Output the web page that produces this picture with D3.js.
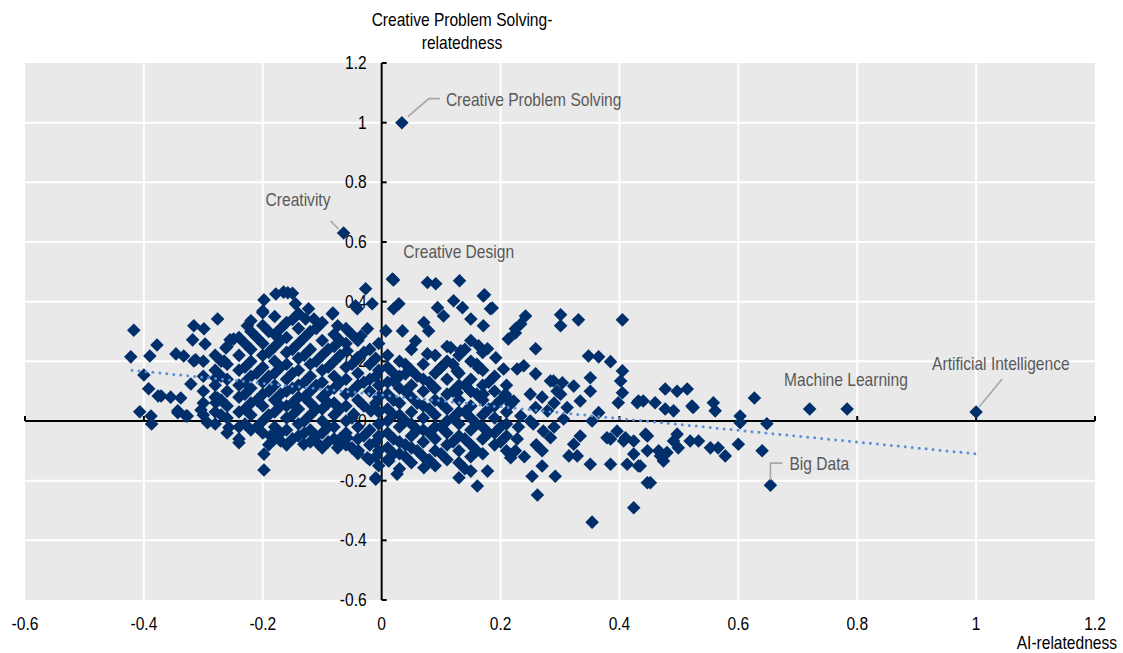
<!DOCTYPE html>
<html><head><meta charset="utf-8">
<script src="https://cdn.jsdelivr.net/npm/d3@7"></script>
<style>html,body{margin:0;padding:0;background:#fff;}svg{display:block;}</style>
</head><body>
<svg id="chart" width="1123" height="653"></svg>
<script>
// ---------- DATA ----------
const xTicks = [-0.6,-0.4,-0.2,0,0.2,0.4,0.6,0.8,1,1.2];
const xTickLabels = ["-0.6","-0.4","-0.2","0","0.2","0.4","0.6","0.8","1","1.2"];
const yTicks = [-0.6,-0.4,-0.2,0,0.2,0.4,0.6,0.8,1,1.2];
const yTickLabels = ["-0.6","-0.4","-0.2","0","0.2","0.4","0.6","0.8","1","1.2"];
const xTitle = "AI-relatedness";
const yTitleLines = ["Creative Problem Solving-","relatedness"];

// labelled skills [AI-relatedness, CPS-relatedness]
const labelledNames = ["Creative Problem Solving","Creativity","Creative Design","Machine Learning","Artificial Intelligence","Big Data"];
const labelledX = [0.034,-0.064,0.018,0.783,1.0,0.654];
const labelledY = [1.0,0.63,0.476,0.04,0.03,-0.215];

// trend line end points
const trendX = [-0.42, 1.0];
const trendY = [0.17, -0.11];

// other skills [AI-relatedness, CPS-relatedness]
const skillsLeft = [
[-0.417,0.304],[-0.422,0.215],[-0.39,0.218],[-0.378,0.255],[-0.40,0.154],[-0.392,0.108],[-0.407,0.031],[-0.388,0.017],[-0.387,-0.01],[-0.376,0.084],
[-0.346,0.225],[-0.333,0.218],[-0.316,0.319],[-0.299,0.309],[-0.318,0.272],[-0.297,0.258],[-0.276,0.342],[-0.313,0.205],[-0.255,0.272],[-0.262,0.245],
[-0.226,0.319],[-0.22,0.336],[-0.198,0.406],[-0.20,0.369],[-0.178,0.426],[-0.158,0.43],[-0.165,0.432],[-0.15,0.428],
[-0.371,0.084],[-0.355,0.08],[-0.338,0.077],[-0.343,0.034],[-0.329,0.017],[-0.304,0.037],[-0.293,-0.006],[-0.321,0.124],[-0.279,0.144],[-0.279,0.061],
[-0.257,-0.022],[-0.24,-0.073],[-0.198,-0.111],[-0.198,-0.164],[-0.187,-0.05],
[-0.145,0.393],[-0.123,0.376],[-0.128,0.342],[-0.106,0.319],[-0.082,0.362],[-0.074,0.319],[-0.027,0.443],[-0.041,0.376],[-0.016,0.393],[-0.024,0.309],
[-0.035,0.285],[-0.058,0.235],[-0.041,0.212],[0.007,0.302],
[-0.047,0.023],[-0.018,0.034],[-0.058,-0.056],[-0.039,-0.1],[-0.024,-0.123],[-0.01,-0.19],[-0.074,-0.09],[-0.106,-0.078],[-0.131,-0.078],[-0.17,-0.067],[0.012,-0.134],
[-0.316,0.201],[-0.343,0.028],[-0.327,0.017],[-0.265,0.201],[-0.249,0.275],[-0.2,0.363],[-0.114,0.342],[-0.083,0.359],[-0.044,0.386],[-0.276,0.077],[-0.01,-0.195]
];
const skillsCoreLeft = [
[-0.30,0.20],[-0.30,0.15],[-0.30,0.10],[-0.30,0.06],[-0.30,0.02],
[-0.28,0.22],[-0.28,0.17],[-0.28,0.12],[-0.28,0.08],[-0.28,0.03],[-0.28,-0.01],
[-0.26,0.25],[-0.26,0.19],[-0.26,0.14],[-0.26,0.10],[-0.26,0.05],[-0.26,0.01],[-0.26,-0.04],
[-0.24,0.28],[-0.24,0.22],[-0.24,0.17],[-0.24,0.12],[-0.24,0.08],[-0.24,0.03],[-0.24,-0.02],[-0.24,-0.06],
[-0.22,0.30],[-0.22,0.24],[-0.22,0.20],[-0.22,0.15],[-0.22,0.11],[-0.22,0.06],[-0.22,0.02],[-0.22,-0.03],
[-0.20,0.32],[-0.20,0.26],[-0.20,0.22],[-0.20,0.18],[-0.20,0.13],[-0.20,0.09],[-0.20,0.05],[-0.20,0.00],[-0.20,-0.04],
[-0.18,0.35],[-0.18,0.29],[-0.18,0.25],[-0.18,0.20],[-0.18,0.16],[-0.18,0.12],[-0.18,0.07],[-0.18,0.03],[-0.18,-0.02],[-0.18,-0.06],
[-0.16,0.33],[-0.16,0.28],[-0.16,0.23],[-0.16,0.19],[-0.16,0.14],[-0.16,0.10],[-0.16,0.05],[-0.16,0.01],[-0.16,-0.03],[-0.16,-0.08],
[-0.14,0.36],[-0.14,0.31],[-0.14,0.26],[-0.14,0.21],[-0.14,0.17],[-0.14,0.12],[-0.14,0.08],[-0.14,0.04],[-0.14,-0.01],[-0.14,-0.05],
[-0.12,0.30],[-0.12,0.24],[-0.12,0.19],[-0.12,0.15],[-0.12,0.10],[-0.12,0.06],[-0.12,0.02],[-0.12,-0.03],[-0.12,-0.07],
[-0.10,0.33],[-0.10,0.27],[-0.10,0.22],[-0.10,0.17],[-0.10,0.13],[-0.10,0.08],[-0.10,0.04],[-0.10,0.00],[-0.10,-0.04],[-0.10,-0.09],
[-0.08,0.29],[-0.08,0.25],[-0.08,0.20],[-0.08,0.15],[-0.08,0.11],[-0.08,0.06],[-0.08,0.02],[-0.08,-0.02],[-0.08,-0.06],
[-0.06,0.31],[-0.06,0.26],[-0.06,0.18],[-0.06,0.14],[-0.06,0.09],[-0.06,0.05],[-0.06,0.00],[-0.06,-0.04],[-0.06,-0.08],
[-0.04,0.27],[-0.04,0.21],[-0.04,0.16],[-0.04,0.12],[-0.04,0.07],[-0.04,-0.02],[-0.04,-0.06],[-0.04,-0.11],
[-0.02,0.24],[-0.02,0.19],[-0.02,0.14],[-0.02,0.10],[-0.02,-0.03],[-0.02,-0.08],[-0.02,-0.13],
[-0.005,0.26],[-0.005,0.17],[-0.005,0.12],[-0.005,0.08],[-0.005,0.03],[-0.005,-0.01],[-0.005,-0.05],[-0.005,-0.10],[-0.005,-0.15]
];
const skillsCoreLeftB = [
[-0.27,0.20],[-0.27,0.15],[-0.27,0.07],[-0.27,0.02],
[-0.23,0.26],[-0.23,0.18],[-0.23,0.13],[-0.23,0.09],[-0.23,0.04],[-0.23,-0.01],
[-0.21,0.28],[-0.21,0.16],[-0.21,0.07],[-0.21,-0.02],
[-0.19,0.30],[-0.19,0.23],[-0.19,0.15],[-0.19,0.10],[-0.19,0.02],[-0.19,-0.08],
[-0.17,0.31],[-0.17,0.27],[-0.17,0.18],[-0.17,0.09],[-0.17,0.05],[-0.17,-0.04],
[-0.15,0.34],[-0.15,0.24],[-0.15,0.16],[-0.15,0.11],[-0.15,0.06],[-0.15,0.02],[-0.15,-0.06],
[-0.13,0.28],[-0.13,0.22],[-0.13,0.13],[-0.13,0.08],[-0.13,0.00],[-0.13,-0.04],
[-0.11,0.31],[-0.11,0.20],[-0.11,0.12],[-0.11,0.04],[-0.11,-0.05],
[-0.09,0.24],[-0.09,0.18],[-0.09,0.10],[-0.09,0.06],[-0.09,-0.02],[-0.09,-0.07],
[-0.07,0.27],[-0.07,0.22],[-0.07,0.13],[-0.07,0.04],[-0.07,-0.06],
[-0.05,0.29],[-0.05,0.19],[-0.05,0.10],[-0.05,0.01],[-0.05,-0.09],
[-0.03,0.23],[-0.03,0.13],[-0.03,0.05],[-0.03,-0.05],
[-0.01,0.21],[-0.01,0.15],[-0.01,0.06],[-0.01,-0.07],[-0.01,-0.12]
];
const skillsCoreMid = [
[0.01,0.22],[0.01,0.18],[0.01,0.13],[0.01,0.09],[0.01,0.04],[0.01,0.00],[0.01,-0.04],[0.01,-0.09],[0.01,-0.13],
[0.03,0.20],[0.03,0.15],[0.03,0.11],[0.03,0.06],[0.03,0.02],[0.03,-0.02],[0.03,-0.07],[0.03,-0.11],[0.03,-0.16],
[0.05,0.24],[0.05,0.17],[0.05,0.12],[0.05,0.08],[0.05,0.03],[0.05,-0.01],[0.05,-0.05],[0.05,-0.09],[0.05,-0.14],
[0.07,0.19],[0.07,0.14],[0.07,0.10],[0.07,0.05],[0.07,0.01],[0.07,-0.03],[0.07,-0.07],[0.07,-0.12],
[0.09,0.22],[0.09,0.16],[0.09,0.11],[0.09,0.07],[0.09,0.02],[0.09,-0.02],[0.09,-0.06],[0.09,-0.10],[0.09,-0.15],
[0.11,0.25],[0.11,0.20],[0.11,0.14],[0.11,0.09],[0.11,0.04],[0.11,0.00],[0.11,-0.04],[0.11,-0.08],[0.11,-0.13],
[0.13,0.22],[0.13,0.16],[0.13,0.12],[0.13,0.07],[0.13,0.03],[0.13,-0.01],[0.13,-0.05],[0.13,-0.10],[0.13,-0.14],[0.13,-0.19],
[0.15,0.27],[0.15,0.20],[0.15,0.14],[0.15,0.10],[0.15,0.05],[0.15,0.01],[0.15,-0.03],[0.15,-0.08],[0.15,-0.12],
[0.17,0.23],[0.17,0.17],[0.17,0.12],[0.17,0.07],[0.17,0.02],[0.17,-0.02],[0.17,-0.06],[0.17,-0.11],
[0.19,0.15],[0.19,0.10],[0.19,0.05],[0.19,0.01],[0.19,-0.04],[0.19,-0.08],
[0.21,0.12],[0.21,0.08],[0.21,0.03],[0.21,-0.01],[0.21,-0.05],[0.21,-0.10]
];
const skillsCoreMidB = [
[0.02,0.16],[0.02,0.07],[0.02,0.02],[0.02,-0.06],[0.02,-0.11],
[0.04,0.19],[0.04,0.10],[0.04,0.00],[0.04,-0.08],[0.04,-0.12],
[0.06,0.15],[0.06,0.06],[0.06,-0.03],[0.06,-0.10],
[0.08,0.13],[0.08,0.04],[0.08,-0.04],[0.08,-0.13],
[0.10,0.18],[0.10,0.06],[0.10,-0.02],[0.10,-0.11],
[0.12,0.19],[0.12,0.10],[0.12,0.01],[0.12,-0.07],
[0.14,0.24],[0.14,0.12],[0.14,0.03],[0.14,-0.06],[0.14,-0.16],
[0.16,0.19],[0.16,0.09],[0.16,-0.01],[0.16,-0.10],
[0.18,0.13],[0.18,0.04],[0.18,-0.04],
[0.20,0.07],[0.20,-0.02],[0.20,-0.07]
];
const skillsMidUpper = [
[0.02,0.473],[0.077,0.464],[0.091,0.46],[0.131,0.47],[0.171,0.419],[0.183,0.376],[0.029,0.393],[0.02,0.376],[0.094,0.38],[0.104,0.352],
[0.121,0.403],[0.136,0.38],[0.15,0.342],[0.171,0.319],[0.035,0.302],[0.071,0.33],[0.079,0.302],[0.057,0.268],[0.077,0.225],[0.116,0.246],
[0.133,0.235],[0.163,0.252],[0.178,0.242],[0.192,0.212],[0.213,0.275],[0.225,0.309],[0.205,0.174],[0.228,0.174],[0.099,0.178],[0.127,0.168],
[0.163,0.178],[0.087,0.112],[0.04,0.158],[0.02,0.134],[0.208,0.09],[0.217,0.057],[0.15,0.1],[0.171,0.09],[0.127,0.095],
[0.161,-0.218],[0.178,-0.168],[0.15,-0.168],[0.026,-0.178],[0.071,-0.157],[0.217,-0.123],[0.173,0.423],[0.186,0.379]
];
const skillsRight = [
[0.242,0.352],[0.234,0.325],[0.225,0.295],[0.301,0.356],[0.301,0.319],[0.331,0.339],[0.405,0.339],[0.259,0.242],[0.348,0.218],[0.365,0.215],
[0.385,0.199],[0.405,0.168],[0.402,0.134],[0.405,0.095],[0.398,0.061],[0.432,0.067],[0.239,0.185],[0.259,0.158],[0.289,0.134],[0.304,0.128],
[0.323,0.117],[0.351,0.145],[0.351,0.1],[0.301,0.09],[0.334,0.067],[0.312,0.045],[0.365,0.028],[0.354,0.0],[0.222,0.067],[0.234,0.017],
[0.259,0.045],[0.279,0.034],[0.306,0.007],[0.255,-0.01],[0.272,-0.034],[0.284,-0.056],[0.334,-0.05],[0.323,-0.078],[0.315,-0.117],[0.329,-0.117],
[0.351,-0.145],[0.385,-0.145],[0.379,-0.056],[0.396,-0.034],[0.41,-0.056],[0.413,-0.145],[0.432,-0.151],[0.444,-0.044],[0.424,-0.111],[0.447,-0.207],
[0.424,-0.291],[0.354,-0.339],[0.262,-0.248],[0.253,-0.185],[0.27,-0.151],[0.292,-0.185],[0.225,-0.1],[0.228,-0.06],
[0.284,0.134],[0.295,0.1],[0.385,-0.06],[0.407,-0.067],[0.424,-0.067],[0.466,-0.1],[0.474,-0.134],
[0.23,-0.02],[0.25,0.0],[0.26,-0.08],[0.24,-0.12],[0.27,-0.1],[0.29,-0.02],[0.29,0.06],[0.27,0.08],[0.25,0.09],
[0.477,0.107],[0.497,0.1],[0.514,0.107],[0.44,0.067],[0.46,0.061],[0.477,0.04],[0.491,0.034],[0.524,0.045],[0.558,0.061],[0.561,0.034],
[0.603,0.017],[0.603,-0.006],[0.627,0.077],[0.648,-0.009],[0.447,-0.05],[0.447,-0.1],[0.469,-0.117],[0.48,-0.106],[0.497,-0.044],[0.491,-0.067],
[0.499,-0.09],[0.519,-0.067],[0.533,-0.067],[0.553,-0.09],[0.566,-0.09],[0.578,-0.117],[0.6,-0.078],[0.64,-0.1],[0.452,-0.207],[0.435,-0.151],
[0.43,0.061],[0.522,0.05],[0.72,0.04]
];

// ---------- LAYOUT / STYLE ----------
const FONT = "'Liberation Sans', Arial, sans-serif";
const FS = 17.5, SX = 0.89;
const svg = d3.select("#chart");
const x = d3.scaleLinear().domain([-0.6,1.2]).range([25,1095]);
const y = d3.scaleLinear().domain([-0.6,1.2]).range([600,63]);

function txt(px, py, str, anchor, color){
  svg.append("g").attr("transform",`translate(${px},${py}) scale(${SX},1)`)
    .append("text").attr("x",0).attr("y",0)
    .attr("text-anchor",anchor).attr("fill",color)
    .style("font-family",FONT).style("font-size",FS+"px").text(str);
}

// background
svg.append("rect").attr("x",x(-0.6)).attr("y",y(1.2)).attr("width",x(1.2)-x(-0.6)).attr("height",y(-0.6)-y(1.2)).attr("fill","#e9e9e9");
// grid
svg.append("g").selectAll("line").data(xTicks.slice(1,-1)).join("line")
  .attr("x1",d=>x(d)).attr("x2",d=>x(d)).attr("y1",y(1.2)).attr("y2",y(-0.6))
  .attr("stroke","#fff").attr("stroke-width",2);
svg.append("g").selectAll("line").data(yTicks.slice(1,-1)).join("line")
  .attr("y1",d=>y(d)).attr("y2",d=>y(d)).attr("x1",x(-0.6)).attr("x2",x(1.2))
  .attr("stroke","#fff").attr("stroke-width",2);

// y tick labels (behind points)
yTicks.forEach((t,i)=>txt(x(0)-15, y(t)+6, yTickLabels[i], "end", "#000"));
// x tick labels
xTicks.forEach((t,i)=>txt(x(t), 629.5, xTickLabels[i], "middle", "#000"));

// axes
const ax = svg.append("g").attr("stroke","#000").attr("stroke-width",2).attr("fill","none");
ax.append("line").attr("x1",x(-0.6)).attr("x2",x(1.2)).attr("y1",y(0)).attr("y2",y(0));
ax.selectAll(".xt").data(xTicks).join("line").attr("class","xt")
  .attr("x1",d=>x(d)).attr("x2",d=>x(d)).attr("y1",y(0)).attr("y2",y(0)-5);
ax.append("line").attr("x1",x(0)).attr("x2",x(0)).attr("y1",y(-0.6)).attr("y2",y(1.2));
ax.selectAll(".yt").data(yTicks).join("line").attr("class","yt")
  .attr("y1",d=>y(d)).attr("y2",d=>y(d)).attr("x1",x(0)).attr("x2",x(0)+5);

// points
const allPts = [].concat(skillsLeft, skillsCoreLeft, skillsCoreLeftB, skillsCoreMid, skillsCoreMidB, skillsMidUpper, skillsRight,
  labelledX.map((v,i)=>[v,labelledY[i]]));
const diamond = d3.symbol(d3.symbolSquare, 92)();
svg.append("g").selectAll("path").data(allPts).join("path")
  .attr("d",diamond)
  .attr("transform",d=>`translate(${x(d[0])},${y(d[1])}) rotate(45)`)
  .attr("fill","#002f6c");

// trend line
svg.append("line").attr("x1",x(trendX[0])).attr("y1",y(trendY[0])).attr("x2",x(trendX[1])).attr("y2",y(trendY[1]))
  .attr("stroke","#5b8fd6").attr("stroke-width",3).attr("stroke-linecap","round").attr("stroke-dasharray","0 7");

// annotations
const annLayout = [
  {dx:44, dy:-17, leader:[[6,-6],[27,-24],[38,-24]]},
  {dx:-78, dy:-27, leader:[[-13,-12],[-5,-4]]},
  {dx:11, dy:-21, leader:null},
  {dx:-63, dy:-23, leader:null},
  {dx:-44, dy:-42, leader:[[3,-5],[26,-33]]},
  {dx:19, dy:-15, leader:[[0,-5],[0,-22],[12,-22]]}
];
labelledNames.forEach((n,i)=>{
  const px = x(labelledX[i]), py = y(labelledY[i]), L = annLayout[i];
  if (L.leader){
    svg.append("path").attr("d", d3.line()(L.leader.map(p=>[px+p[0],py+p[1]])))
      .attr("fill","none").attr("stroke","#a6a6a6").attr("stroke-width",1.6);
  }
  txt(px+L.dx, py+L.dy, n, "start", "#595959");
});

// axis titles
txt(462, 26, yTitleLines[0], "middle", "#000");
txt(462, 49, yTitleLines[1], "middle", "#000");
txt(1117, 649, xTitle, "end", "#000");
</script>
</body></html>
